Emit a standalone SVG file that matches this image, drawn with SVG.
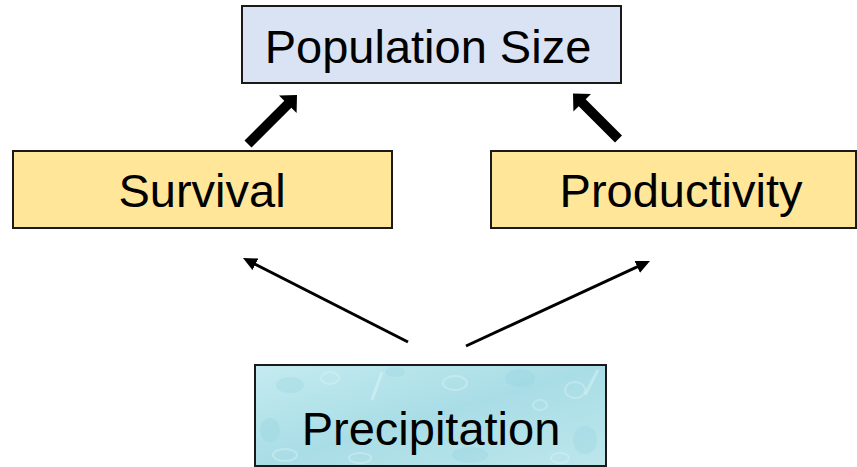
<svg xmlns="http://www.w3.org/2000/svg" width="857" height="467" viewBox="0 0 857 467">
  <style>
    .box { stroke: #1a1a1a; stroke-width: 2; }
    .lbl { font-family: "Liberation Sans", Arial, sans-serif; font-size: 47px; fill: #000; text-anchor: middle; }
    .thin { stroke: #000; stroke-width: 3; fill: none; marker-end: url(#head); }
    .thick { fill: #000; }
    .drop { fill: none; stroke: #e4f7fa; stroke-width: 2; opacity: 0.35; }
    .dropd { fill: #8ccfdb; opacity: 0.25; }
  </style>
  <defs>
    <marker id="head" viewBox="0 0 14 13" refX="4" refY="6.5" markerWidth="14" markerHeight="13" markerUnits="userSpaceOnUse" orient="auto">
      <path d="M0,0 L14,6.5 L0,13 z" fill="#000"/>
    </marker>
    <linearGradient id="water" x1="0" y1="0" x2="1" y2="1">
      <stop offset="0" stop-color="#c4ebf0"/>
      <stop offset="0.5" stop-color="#a9dde6"/>
      <stop offset="1" stop-color="#bde6ec"/>
    </linearGradient>
    <clipPath id="precClip">
      <rect x="255" y="365" width="351" height="101"/>
    </clipPath>
  </defs>

  <g id="connectors">
    <polygon class="thick" points="297,95 296.6,113 291.3,107.7 251.5,147.5 244.5,140.5 284.3,100.7 279,95.4"/>
    <polygon class="thick" points="573,93.5 591,93.9 585.7,99.2 622,135.5 615,142.5 578.7,106.2 573.4,111.5"/>
    <line class="thin" x1="408" y1="342" x2="251.9" y2="262.5"/>
    <line class="thin" x1="466" y1="346" x2="640.9" y2="265.2"/>
  </g>

  <g id="population-size">
    <rect class="box" x="242" y="6" width="379" height="77" fill="#dae3f3"/>
    <text class="lbl" x="428" y="63">Population Size</text>
  </g>

  <g id="survival">
    <rect class="box" x="13" y="151" width="379" height="77" fill="#ffe699"/>
    <text class="lbl" x="202" y="207">Survival</text>
  </g>

  <g id="productivity">
    <rect class="box" x="491" y="151" width="365" height="77" fill="#ffe699"/>
    <text class="lbl" x="681" y="207">Productivity</text>
  </g>

  <g id="precipitation">
    <rect x="255" y="365" width="351" height="101" fill="url(#water)"/>
    <g clip-path="url(#precClip)">
      <ellipse class="dropd" cx="290" cy="385" rx="14" ry="8"/>
      <ellipse class="drop" cx="330" cy="378" rx="9" ry="6"/>
      <ellipse class="dropd" cx="395" cy="372" rx="10" ry="5"/>
      <ellipse class="drop" cx="455" cy="383" rx="12" ry="7"/>
      <ellipse class="dropd" cx="520" cy="378" rx="15" ry="9"/>
      <ellipse class="drop" cx="575" cy="390" rx="10" ry="8"/>
      <ellipse class="dropd" cx="270" cy="430" rx="10" ry="12"/>
      <ellipse class="drop" cx="285" cy="455" rx="12" ry="6"/>
      <ellipse class="dropd" cx="585" cy="440" rx="12" ry="14"/>
      <ellipse class="drop" cx="560" cy="458" rx="9" ry="5"/>
      <ellipse class="dropd" cx="470" cy="455" rx="18" ry="8"/>
      <ellipse class="drop" cx="360" cy="458" rx="11" ry="5"/>
      <ellipse class="drop" cx="540" cy="405" rx="7" ry="5"/>
      <line x1="382" y1="372" x2="372" y2="400" stroke="#e4f7fa" stroke-width="3" opacity="0.45"/>
      <line x1="598" y1="370" x2="585" y2="395" stroke="#e4f7fa" stroke-width="3" opacity="0.4"/>
    </g>
    <rect x="255" y="365" width="351" height="101" fill="none" stroke="#1a1a1a" stroke-width="2"/>
    <text class="lbl" x="431" y="445">Precipitation</text>
  </g>
</svg>
